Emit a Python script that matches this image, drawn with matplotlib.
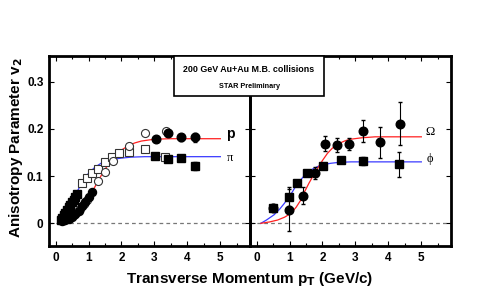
import matplotlib
matplotlib.use("Agg")
import matplotlib.pyplot as plt
from matplotlib.patches import Rectangle
from matplotlib.ticker import MultipleLocator

plt.rcParams['font.family'] = ['Liberation Sans', 'DejaVu Sans']
plt.rcParams['mathtext.default'] = 'bf'

# ---------------- data: left panel (pi, p) ----------------
pi_star_lo_x = [0.15, 0.2, 0.25, 0.3, 0.35, 0.4, 0.45, 0.5, 0.55, 0.6, 0.65]
pi_star_lo_y = [0.007, 0.012, 0.017, 0.022, 0.028, 0.034, 0.039, 0.045, 0.050, 0.055, 0.062]
pi_open_x = [0.25, 0.35, 0.45, 0.79, 0.94, 1.09, 1.3, 1.5, 1.71, 1.91, 2.22, 2.70, 3.31]
pi_open_y = [0.014, 0.024, 0.033, 0.085, 0.095, 0.106, 0.115, 0.129, 0.140, 0.148, 0.151, 0.158, 0.141]
pi_star_hi_x = [3.02, 3.42, 3.82, 4.23]
pi_star_hi_y = [0.142, 0.136, 0.139, 0.121]
pi_star_hi_e = [0.004, 0.004, 0.005, 0.008]

p_star_lo_x = [0.2, 0.3, 0.4, 0.5, 0.6, 0.7, 0.8, 0.9, 1.0, 1.1]
p_star_lo_y = [0.004, 0.006, 0.009, 0.014, 0.020, 0.027, 0.036, 0.045, 0.055, 0.066]
p_open_x = [0.55, 0.65, 0.75, 0.85, 0.95, 1.3, 1.5, 1.74, 2.22, 2.71, 3.34]
p_open_y = [0.017, 0.024, 0.031, 0.040, 0.050, 0.089, 0.109, 0.132, 0.164, 0.192, 0.196]
p_star_hi_x = [3.04, 3.42, 3.82, 4.23]
p_star_hi_y = [0.178, 0.192, 0.182, 0.182]
p_star_hi_e = [0.005, 0.006, 0.007, 0.010]

# fit curves
pi_fit_x = [0.15, 0.3, 0.45, 0.6, 0.8, 1.0, 1.2, 1.4, 1.6, 1.8, 2.0, 2.3, 2.7, 3.2, 4.0, 5.0]
pi_fit_y = [0.008, 0.024, 0.042, 0.060, 0.086, 0.106, 0.119, 0.128, 0.133, 0.136, 0.138, 0.140, 0.141, 0.141, 0.141, 0.141]
p_fit_x = [0.15, 0.3, 0.45, 0.6, 0.75, 0.9, 1.0, 1.1, 1.2, 1.3, 1.4, 1.5, 1.6, 1.7, 1.8, 1.9, 2.0, 2.2, 2.4, 2.6, 2.8, 3.0, 3.5, 4.0, 5.0]
p_fit_y = [0.000, 0.004, 0.010, 0.018, 0.029, 0.043, 0.054, 0.066, 0.078, 0.091, 0.103, 0.114, 0.125, 0.134, 0.142, 0.149, 0.155, 0.164, 0.170, 0.174, 0.176, 0.178, 0.179, 0.179, 0.179]

# ---------------- data: right panel (phi, Omega) ----------------
phi_x = [0.51, 0.97, 1.22, 1.54, 2.02, 2.55, 3.24, 4.33]
phi_y = [0.033, 0.056, 0.085, 0.106, 0.121, 0.134, 0.132, 0.125]
phi_e = [0.007, 0.020, 0.007, 0.006, 0.006, 0.007, 0.009, 0.026]
om_x = [0.51, 0.97, 1.42, 1.78, 2.07, 2.43, 2.81, 3.24, 3.75, 4.35]
om_y = [0.033, 0.028, 0.058, 0.107, 0.168, 0.166, 0.168, 0.196, 0.171, 0.211]
om_e = [0.006, 0.045, 0.018, 0.013, 0.016, 0.015, 0.013, 0.023, 0.032, 0.045]

phi_fit_x = [0.13, 0.3, 0.53, 0.7, 0.84, 1.0, 1.09, 1.2, 1.34, 1.45, 1.59, 1.7, 1.85, 2.0, 2.25, 2.5, 2.86, 3.5, 4.2, 5.0]
phi_fit_y = [0.000, 0.007, 0.018, 0.030, 0.042, 0.058, 0.067, 0.080, 0.092, 0.101, 0.109, 0.115, 0.120, 0.124, 0.127, 0.129, 0.130, 0.130, 0.130, 0.130]
om_fit_x = [0.13, 0.4, 0.64, 0.85, 1.04, 1.2, 1.34, 1.45, 1.59, 1.72, 1.85, 2.0, 2.15, 2.3, 2.5, 2.7, 2.86, 3.2, 3.6, 4.2, 5.0]
om_fit_y = [0.000, 0.003, 0.007, 0.013, 0.021, 0.034, 0.049, 0.066, 0.085, 0.101, 0.116, 0.133, 0.148, 0.159, 0.169, 0.175, 0.178, 0.181, 0.183, 0.183, 0.183]

x_ticks = [0, 1, 2, 3, 4, 5]
y_ticks = [0, 0.1, 0.2, 0.3]
y_tick_labels = ['0', '0.1', '0.2', '0.3']

# ---------------- figure ----------------
W, H = 498, 302
fig = plt.figure(figsize=(W / 100, H / 100), dpi=100)
ax1 = fig.add_axes([49 / W, 56 / H, 201 / W, 190 / H])
ax2 = fig.add_axes([250 / W, 56 / H, 201 / W, 190 / H])

for ax in (ax1, ax2):
    ax.patch.set_alpha(0)
    ax.set_xlim(-0.2, 5.9)
    ax.set_ylim(-0.048, 0.354)
    ax.axhline(0, color='#777777', lw=0.9, ls=(0, (3, 2.5)), zorder=1)
    ax.set_xticks(x_ticks)
    ax.xaxis.set_minor_locator(MultipleLocator(0.5))
    ax.set_yticks(y_ticks)
    ax.tick_params(which='both', direction='in', top=True, right=True,
                   labelsize=8.5, width=0.8, pad=4)
    ax.tick_params(which='major', length=3.5)
    ax.tick_params(which='minor', length=2)
    for s in ax.spines.values():
        s.set_linewidth(2.0)
        s.set_zorder(5)

ax1.set_yticklabels(y_tick_labels)
ax2.set_yticklabels([])
for ax in (ax1, ax2):
    for lab in ax.get_xticklabels() + ax.get_yticklabels():
        lab.set_fontweight('bold')

fit_kw = dict(lw=0.9, zorder=2)
fill_kw = dict(color='black', ls='none', zorder=3)
open_kw = dict(mfc='white', mec='#333333', mew=0.8, ls='none', zorder=3)

# left panel
ax1.plot(pi_fit_x, pi_fit_y, color='#3a3aff', **fit_kw)
ax1.plot(p_fit_x, p_fit_y, color='#ff2020', **fit_kw)
ax1.plot(pi_open_x, pi_open_y, marker='s', ms=5.2, **open_kw)
ax1.plot(p_open_x, p_open_y, marker='o', ms=5.8, **open_kw)
ax1.plot(pi_star_lo_x, pi_star_lo_y, marker='s', ms=5.2, **fill_kw)
ax1.plot(p_star_lo_x, p_star_lo_y, marker='o', ms=5.8, **fill_kw)
ax1.errorbar(pi_star_hi_x, pi_star_hi_y, yerr=pi_star_hi_e, fmt='s', ms=5.2,
             color='black', elinewidth=0.8, capsize=1.2, zorder=3)
ax1.errorbar(p_star_hi_x, p_star_hi_y, yerr=p_star_hi_e, fmt='o', ms=6.2,
             color='black', elinewidth=0.8, capsize=1.2, zorder=3)
ax1.text(5.3, 0.19, 'p', fontsize=10, fontweight='bold', ha='center', va='center')
ax1.text(5.3, 0.139, 'π', fontsize=9, family=['Liberation Serif', 'DejaVu Serif'],
         ha='center', va='center')

# right panel
ax2.plot(phi_fit_x, phi_fit_y, color='#3a3aff', **fit_kw)
ax2.plot(om_fit_x, om_fit_y, color='#ff2020', **fit_kw)
ax2.errorbar(phi_x, phi_y, yerr=phi_e, fmt='s', ms=5.5, color='black',
             elinewidth=0.8, capsize=1.2, zorder=3)
ax2.errorbar(om_x, om_y, yerr=om_e, fmt='o', ms=6.2, color='black',
             elinewidth=0.8, capsize=1.2, zorder=3)
ax2.text(5.25, 0.194, 'Ω', fontsize=9, family=['Liberation Serif', 'DejaVu Serif'],
         ha='center', va='center')
ax2.text(5.25, 0.136, 'ϕ', fontsize=9, family=['Liberation Serif', 'DejaVu Serif'],
         ha='center', va='center')

# header box
fig.patches.append(Rectangle((174 / W, 1 - 96 / H), 150 / W, 40 / H,
                             transform=fig.transFigure, facecolor='white',
                             edgecolor='black', lw=1.2, zorder=10))
fig.text(249 / W, 1 - 70 / H, '200 GeV Au+Au M.B. collisions', ha='center',
         va='center', fontsize=6.4, fontweight='bold', zorder=11)
fig.text(249 / W, 1 - 86 / H, 'STAR Preliminary', ha='center', va='center',
         fontsize=5.2, fontweight='bold', zorder=11)

fig.text(16 / W, 1 - 148 / H, 'Anisotropy Parameter v$_{2}$', rotation=90,
         ha='center', va='center', fontsize=11, fontweight='bold')
fig.text(250 / W, 1 - 279 / H, 'Transverse Momentum p$_{T}$ (GeV/c)',
         ha='center', va='center', fontsize=11, fontweight='bold')

fig.savefig('out.png', dpi=100)
